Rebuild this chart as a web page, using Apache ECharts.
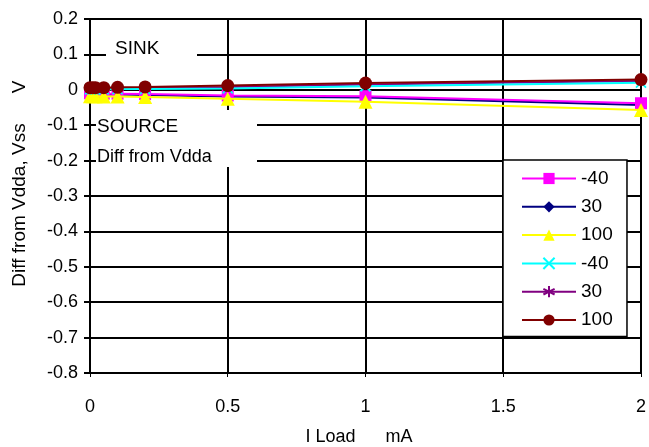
<!DOCTYPE html>
<html><head><meta charset="utf-8">
<script src="https://cdn.jsdelivr.net/npm/echarts@6/dist/echarts.min.js"></script>
<style>html,body{margin:0;padding:0;background:#fff}#c{width:649px;height:447px}</style>
</head><body><div id="c"></div>
<script>
const iLoad = [0, 0.01, 0.02, 0.05, 0.1, 0.2, 0.5, 1, 2];
const seriesNames = ['-40', '30', '100', '-40', '30', '100'];
const sourceM40 = [-0.010, -0.010, -0.010, -0.011, -0.011, -0.012, -0.016, -0.018, -0.038];
const source30 = [-0.012, -0.012, -0.012, -0.013, -0.013, -0.015, -0.019, -0.022, -0.043];
const source100 = [-0.018, -0.018, -0.018, -0.019, -0.019, -0.020, -0.025, -0.034, -0.057];
const sinkM40 = [0.001, 0.001, 0.001, 0.001, 0.002, 0.002, 0.004, 0.010, 0.020];
const sink30 = [0.004, 0.004, 0.004, 0.004, 0.005, 0.005, 0.008, 0.015, 0.025];
const sink100 = [0.006, 0.006, 0.006, 0.006, 0.007, 0.008, 0.012, 0.019, 0.029];
const xTicks = [0, 0.5, 1, 1.5, 2];
const yTicks = [-0.8, -0.7, -0.6, -0.5, -0.4, -0.3, -0.2, -0.1, 0, 0.1, 0.2];

const FONT = 'Liberation Sans';
const colors = ['#FF00FF', '#000080', '#FFFF00', '#00FFFF', '#800080', '#800000'];
const symbols = ['rect', 'diamond', 'triangle',
  'path://M0,0L10,10M10,0L0,10',
  'path://M5,0L5,10M0.7,2.5L9.3,7.5M0.7,7.5L9.3,2.5',
  'circle'];
const sizes = [12, 12, 14, 10, 10, 13];
const zOrder = [4, 3, 6, 7, 5, 8];
const datas = [sourceM40, source30, source100, sinkM40, sink30, sink100];

const series = datas.map((d, i) => ({
  name: seriesNames[i] + (i >= 3 ? ' ' : ''),
  type: 'line',
  data: iLoad.map((x, j) => [x, d[j]]),
  symbol: symbols[i],
  symbolSize: sizes[i],
  showAllSymbol: true,
  lineStyle: { color: colors[i], width: 2 },
  itemStyle: (i === 3 || i === 4)
    ? { color: colors[i], borderColor: colors[i], borderWidth: 1.8 }
    : { color: colors[i], borderWidth: 0 },
  emphasis: { disabled: true },
  animation: false,
  z: zOrder[i]
}));

const chart = echarts.init(document.getElementById('c'), null, { renderer: 'canvas' });
chart.setOption({
  animation: false,
  backgroundColor: '#fff',
  grid: { left: 90, right: 6, top: 19, bottom: 74, show: true, borderColor: '#888', borderWidth: 2, backgroundColor: '#fff' },
  xAxis: {
    type: 'value', min: 0, max: 2, interval: 0.5,
    axisLine: { show: true, onZero: false, lineStyle: { color: '#000', width: 2 } },
    axisTick: { show: true, length: 4, lineStyle: { color: '#000', width: 1 } },
    splitLine: { show: true, lineStyle: { color: '#000', width: 2 } },
    axisLabel: { color: '#000', fontFamily: FONT, fontSize: 18, margin: 25,
      formatter: v => xTicks.includes(v) ? String(v) : '' }
  },
  yAxis: {
    type: 'value', min: -0.8, max: 0.2, interval: 0.1,
    axisLine: { show: true, onZero: false, lineStyle: { color: '#000', width: 2 } },
    axisTick: { show: true, length: 6, lineStyle: { color: '#000', width: 2 } },
    splitLine: { show: true, lineStyle: { color: '#000', width: 2 } },
    axisLabel: { color: '#000', fontFamily: FONT, fontSize: 18, margin: 12,
      formatter: v => { const r = Math.round(v * 10) / 10; return yTicks.includes(r) ? String(r) : ''; } }
  },
  legend: {
    orient: 'vertical', left: 503, top: 160,
    padding: [9, 9, 7, 18],
    itemWidth: 54, itemHeight: 14, itemGap: 9.3,
    backgroundColor: '#fff', borderColor: '#000', borderWidth: 1.5,
    textStyle: { color: '#000', fontFamily: FONT, fontSize: 19 },
    selectedMode: false,
    data: series.map(s => s.name)
  },
  graphic: [
    { type: 'rect', shape: { x: 106, y: 40, width: 91, height: 20 }, style: { fill: '#fff' }, z: 50 },
    { type: 'text', x: 115, y: 49, style: { text: 'SINK', font: '19px "Liberation Sans"', fill: '#000', textVerticalAlign: 'middle' }, z: 51 },
    { type: 'rect', shape: { x: 96, y: 110, width: 161, height: 57 }, style: { fill: '#fff' }, z: 50 },
    { type: 'text', x: 97, y: 127, style: { text: 'SOURCE', font: '19px "Liberation Sans"', fill: '#000', textVerticalAlign: 'middle' }, z: 51 },
    { type: 'text', x: 97, y: 157, style: { text: 'Diff from Vdda', font: '18px "Liberation Sans"', fill: '#000', textVerticalAlign: 'middle' }, z: 51 },
    { type: 'text', x: 20, y: 205, rotation: Math.PI / 2,
      style: { text: 'Diff from Vdda, Vss', font: '19px "Liberation Sans"', fill: '#000', textAlign: 'center', textVerticalAlign: 'middle' }, z: 51 },
    { type: 'text', x: 20, y: 87, rotation: Math.PI / 2,
      style: { text: 'V', font: '19px "Liberation Sans"', fill: '#000', textAlign: 'center', textVerticalAlign: 'middle' }, z: 51 },
    { type: 'text', x: 359, y: 437,
      style: { text: 'I Load      mA', font: '18px "Liberation Sans"', fill: '#000', textAlign: 'center', textVerticalAlign: 'middle' }, z: 51 }
  ],
  series: series
});
</script></body></html>
